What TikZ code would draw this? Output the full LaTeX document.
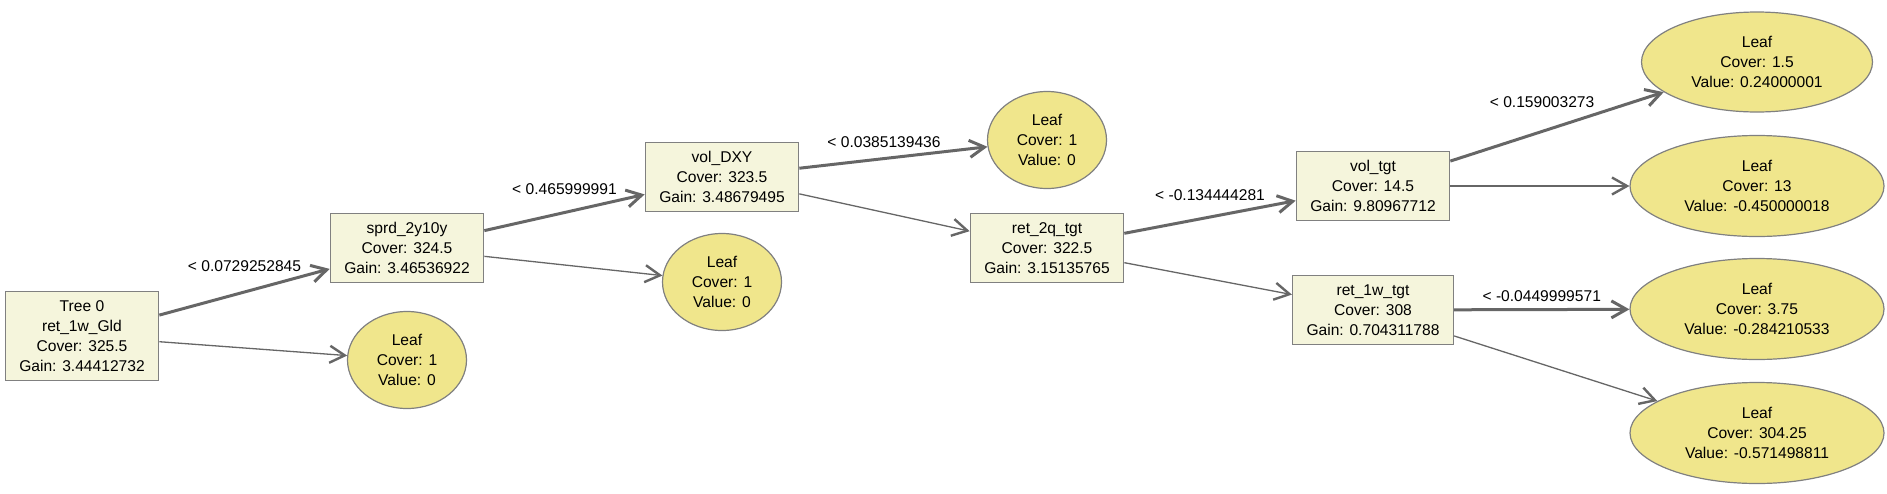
\documentclass[tikz,border=0pt]{standalone}
\usepackage{fontspec}
\setmainfont{Liberation Sans}
\usetikzlibrary{arrows.meta,shapes.geometric}
\definecolor{boxfill}{RGB}{245,245,220}
\definecolor{leaffill}{RGB}{240,230,140}
\definecolor{edgegray}{RGB}{102,102,102}
\definecolor{bordergray}{RGB}{128,128,128}

\begin{document}
\begin{tikzpicture}[x=1pt,y=-1pt,
    font=\fontsize{15.6}{20}\selectfont,
    split/.style={draw=bordergray,fill=boxfill,line width=1.2pt,align=center,
      inner xsep=14pt,inner ysep=9pt},
    leaf/.style={ellipse,draw=bordergray,fill=leaffill,line width=1.2pt,align=center,
      inner sep=0pt,minimum width=119pt,minimum height=97pt},
    wideleaf/.style={leaf,minimum width=254pt,minimum height=101pt},
    yes/.style={draw=edgegray,line width=3pt,-{Straight Barb[length=15pt,width=17pt]}},
    no/.style={draw=edgegray,line width=1.3pt,-{Straight Barb[length=15pt,width=17pt,line width=2.4pt]}},
    cond/.style={inner sep=0pt}]
\useasboundingbox (0,0) rectangle (1887,493);

\node[split] (t0)   at (82,336)   {Tree 0\\ret\_1w\_Gld\\Cover: 325.5\\Gain: 3.44412732};
\node[split] (sprd) at (407,248)  {sprd\_2y10y\\Cover: 324.5\\Gain: 3.46536922};
\node[leaf]  (l1)   at (407,360)  {Leaf\\Cover: 1\\Value: 0};
\node[split] (dxy)  at (722,177)  {vol\_DXY\\Cover: 323.5\\Gain: 3.48679495};
\node[leaf]  (l2)   at (722,282)  {Leaf\\Cover: 1\\Value: 0};
\node[leaf]  (l3)   at (1047,140) {Leaf\\Cover: 1\\Value: 0};
\node[split] (r2q)  at (1047,248) {ret\_2q\_tgt\\Cover: 322.5\\Gain: 3.15135765};
\node[split] (vtgt) at (1373,186) {vol\_tgt\\Cover: 14.5\\Gain: 9.80967712};
\node[split] (r1w)  at (1373,310) {ret\_1w\_tgt\\Cover: 308\\Gain: 0.704311788};
\node[wideleaf,minimum width=231pt,minimum height=100pt] (l4) at (1757,62) {Leaf\\Cover: 1.5\\Value: 0.24000001};
\node[wideleaf] (l5) at (1757,186) {Leaf\\Cover: 13\\Value: -0.450000018};
\node[wideleaf] (l6) at (1757,309) {Leaf\\Cover: 3.75\\Value: -0.284210533};
\node[wideleaf] (l7) at (1757,433) {Leaf\\Cover: 304.25\\Value: -0.571498811};

\draw[yes] (t0) -- node[cond,yshift=26pt] {< 0.0729252845} (sprd);
\draw[no] (t0) -- (l1);
\draw[yes] (sprd) -- node[cond,yshift=23pt] {< 0.465999991} (dxy);
\draw[no] (sprd) -- (l2);
\draw[yes] (dxy) -- node[cond,pos=0.45,yshift=16pt] {< 0.0385139436} (l3);
\draw[no] (dxy) -- (r2q);
\draw[yes] (r2q) -- node[cond,yshift=22pt] {< -0.134444281} (vtgt);
\draw[no] (r2q) -- (r1w);
\draw[yes] (vtgt) -- node[cond,pos=0.43,yshift=29pt] {< 0.159003273} (l4);
\draw[no] (vtgt) -- (l5);
\draw[yes] (r1w) -- node[cond,yshift=13pt] {< -0.0449999571} (l6);
\draw[no] (r1w) -- (l7);
\end{tikzpicture}
\end{document}
